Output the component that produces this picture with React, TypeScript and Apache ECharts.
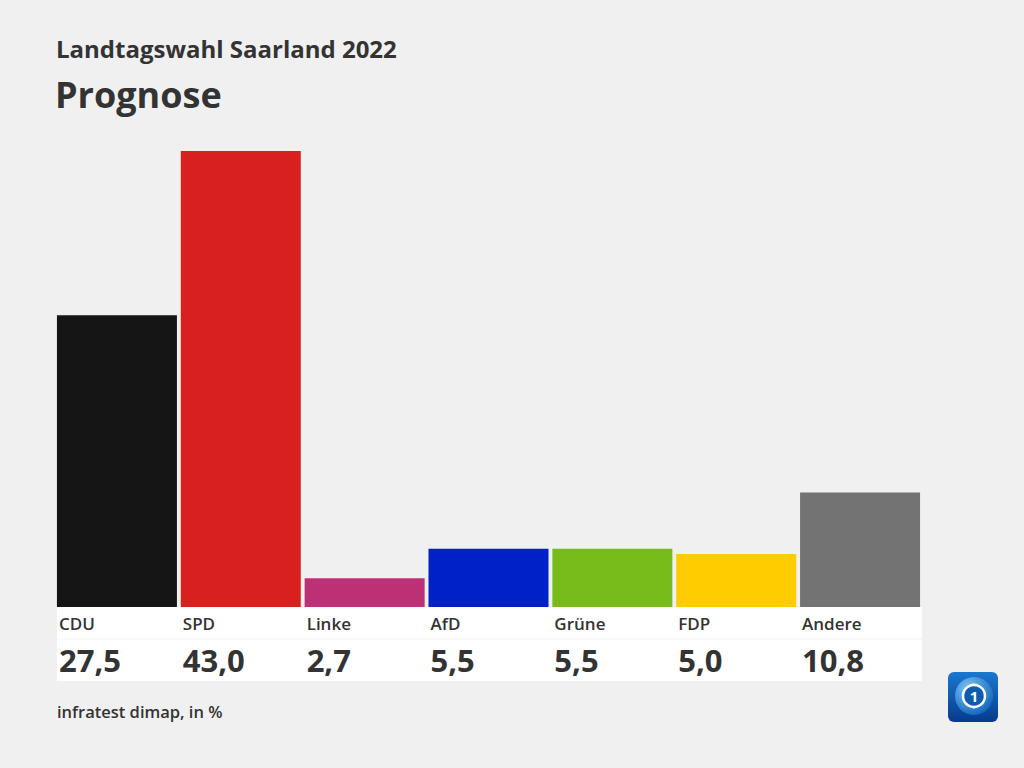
import React, { useEffect, useRef } from "react";
import * as echarts from "echarts";

const categories = ["CDU", "SPD", "Linke", "AfD", "Grüne", "FDP", "Andere"];
const values = [27.5, 43.0, 2.7, 5.5, 5.5, 5.0, 10.8];
const colors = ["#151515", "#d8201f", "#be3075", "#0021c8", "#78bc1b", "#ffcc00", "#737373"];

const FONT = "'Open Sans', 'Noto Sans', sans-serif";

export default function App() {
  const ref = useRef<HTMLDivElement>(null);
  useEffect(() => {
    if (!ref.current) return;
    const chart = echarts.init(ref.current, null, { renderer: "svg" });
    chart.setOption({
      animation: false,
      backgroundColor: "#f0f0f0",
      textStyle: { fontFamily: FONT },
      grid: { left: 55, right: 102, top: 151, bottom: 161 },
      xAxis: {
        type: "category",
        data: categories,
        axisLine: { show: false },
        axisTick: { show: false },
        axisLabel: { show: false },
      },
      yAxis: { type: "value", min: 0, max: 43, show: false, splitLine: { show: false } },
      graphic: [
        {
          type: "text",
          left: 56,
          top: 36,
          style: { text: "Landtagswahl Saarland 2022", fill: "#333333", font: `bold 24px ${FONT}` },
        },
        {
          type: "text",
          left: 55,
          top: 76,
          style: { text: "Prognose", fill: "#333333", font: `bold 36px ${FONT}` },
        },
        {
          type: "rect",
          z: -1,
          shape: { x: 57, y: 607, width: 865, height: 74 },
          style: { fill: "#ffffff" },
        },
        {
          type: "line",
          z: -1,
          shape: { x1: 57, y1: 639, x2: 922, y2: 639 },
          style: { stroke: "#f3f3f3", lineWidth: 1 },
        },
        {
          type: "text",
          left: 57,
          top: 703,
          style: { text: "infratest dimap, in %", fill: "#333333", font: `600 16.5px ${FONT}` },
        },
        {
          type: "group",
          left: 948,
          top: 672,
          children: [
            {
              type: "rect",
              shape: { x: 0, y: 0, width: 50, height: 50, r: 6 },
              style: {
                fill: new echarts.graphic.LinearGradient(0, 0, 0, 1, [
                  { offset: 0, color: "#1a78d0" },
                  { offset: 1, color: "#063b8c" },
                ]),
              },
            },
            {
              type: "circle",
              shape: { cx: 26, cy: 24, r: 19 },
              style: {
                fill: new echarts.graphic.RadialGradient(0.35, 0.3, 0.8, [
                  { offset: 0, color: "#7cc4f5" },
                  { offset: 1, color: "#0b5fb8" },
                ]),
              },
            },
            {
              type: "circle",
              shape: { cx: 26, cy: 24, r: 11 },
              style: { fill: "#0d5cb0", stroke: "#ffffff", lineWidth: 2.5 },
            },
            {
              type: "text",
              style: {
                x: 26,
                y: 24,
                text: "1",
                fill: "#ffffff",
                font: `bold 15px ${FONT}`,
                align: "center",
                verticalAlign: "middle",
              },
            },
          ],
        },
      ],
      series: [
        {
          type: "bar",
          data: values.map((v, i) => ({ value: v, itemStyle: { color: colors[i] } })),
          barWidth: 120,
          label: {
            show: true,
            position: [2, "100%"],
            align: "left",
            verticalAlign: "top",
            formatter: (p: any) =>
              `{n|${p.name}}\n{v|${p.value.toFixed(1).replace(".", ",")}}`,
            rich: {
              n: {
                fontFamily: FONT,
                fontSize: 17,
                fontWeight: 600,
                color: "#333333",
                height: 32,
                lineHeight: 32,
              },
              v: {
                fontFamily: FONT,
                fontSize: 31,
                fontWeight: "bold",
                color: "#333333",
                height: 42,
                lineHeight: 42,
              },
            },
          },
        },
      ],
    });
    return () => chart.dispose();
  }, []);
  return <div ref={ref} style={{ width: 1024, height: 768, position: "absolute", left: 0, top: 0 }} />;
}
